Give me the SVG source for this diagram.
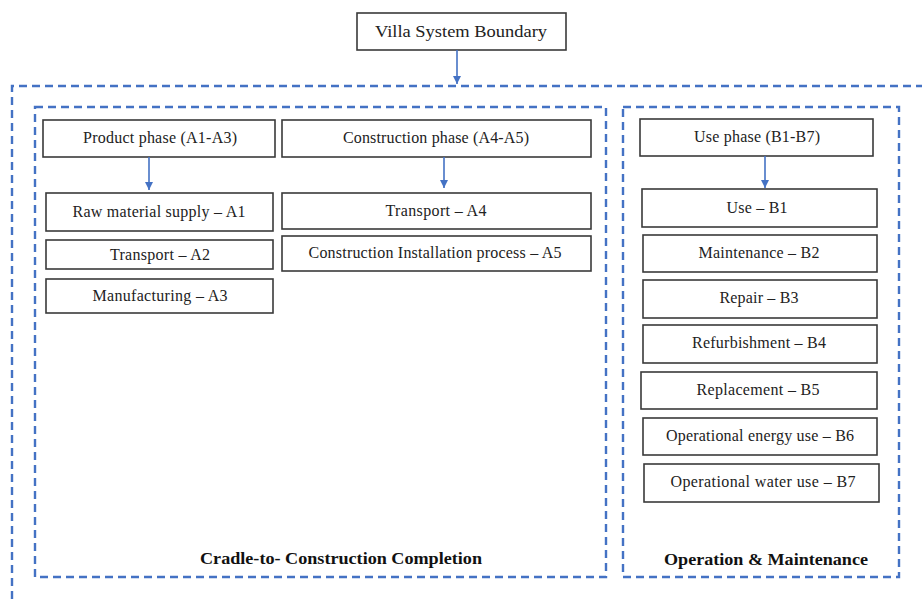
<svg xmlns="http://www.w3.org/2000/svg" width="922" height="599" viewBox="0 0 922 599">
  <defs>
    <marker id="arrow" markerWidth="10" markerHeight="10" refX="9" refY="5" orient="auto" markerUnits="userSpaceOnUse">
      <path d="M1,1 L9,5 L1,9 Z" fill="#4472C4"/>
    </marker>
    <style>
      .box { fill: #ffffff; stroke: #3a3a3a; stroke-width: 1.6; }
      .bound { fill: none; stroke: #4472C4; stroke-width: 2.4; stroke-dasharray: 8 5; }
      .lbl { font-family: "Liberation Serif", "Times New Roman", serif; font-size: 16px; fill: #222222; text-anchor: middle; }
      .title { font-family: "Liberation Serif", "Times New Roman", serif; font-size: 17.5px; fill: #222222; text-anchor: middle; }
      .zone { font-family: "Liberation Serif", "Times New Roman", serif; font-size: 17px; font-weight: bold; fill: #111111; text-anchor: middle; }
      .conn { stroke: #4472C4; stroke-width: 1.6; fill: none; }
    </style>
  </defs>
  <rect width="922" height="599" fill="#ffffff"/>

  <!-- system boundaries -->
  <g id="boundaries">
    <path class="bound" d="M12,599 V86 H922"/>
    <rect class="bound" x="35" y="107" width="571" height="470"/>
    <rect class="bound" x="623" y="107" width="276" height="470"/>
    <text class="zone" x="341" y="564" textLength="282" lengthAdjust="spacingAndGlyphs">Cradle-to- Construction Completion</text>
    <text class="zone" x="766" y="565" textLength="204" lengthAdjust="spacingAndGlyphs">Operation &amp; Maintenance</text>
  </g>

  <g id="villa">
    <rect class="box" x="357" y="13" width="209" height="37"/>
    <text class="title" x="461" y="37" textLength="172" lengthAdjust="spacingAndGlyphs">Villa System Boundary</text>
  </g>

  <!-- product stage A1-A3 -->
  <g id="product-phase">
    <rect class="box" x="43" y="120" width="232" height="37"/>
    <text class="lbl" x="160" y="143" textLength="154" lengthAdjust="spacing">Product phase (A1-A3)</text>
  </g>
  <g id="a1">
    <rect class="box" x="46" y="193" width="227" height="38"/>
    <text class="lbl" x="159" y="217" textLength="173" lengthAdjust="spacing">Raw material  supply – A1</text>
  </g>
  <g id="a2">
    <rect class="box" x="46" y="240" width="227" height="29"/>
    <text class="lbl" x="160" y="260" textLength="100" lengthAdjust="spacing">Transport – A2</text>
  </g>
  <g id="a3">
    <rect class="box" x="46" y="279" width="227" height="34"/>
    <text class="lbl" x="160" y="301" textLength="135" lengthAdjust="spacing">Manufacturing  – A3</text>
  </g>

  <!-- construction stage A4-A5 -->
  <g id="construction-phase">
    <rect class="box" x="282" y="120" width="309" height="37"/>
    <text class="lbl" x="436" y="143" textLength="186" lengthAdjust="spacing">Construction  phase (A4-A5)</text>
  </g>
  <g id="a4">
    <rect class="box" x="282" y="193" width="309" height="36"/>
    <text class="lbl" x="436" y="216" textLength="101" lengthAdjust="spacing">Transport – A4</text>
  </g>
  <g id="a5">
    <rect class="box" x="282" y="236" width="309" height="35"/>
    <text class="lbl" x="435" y="258" textLength="253" lengthAdjust="spacing">Construction  Installation  process – A5</text>
  </g>

  <!-- use stage B1-B7 -->
  <g id="use-phase">
    <rect class="box" x="640" y="119" width="233" height="37"/>
    <text class="lbl" x="757" y="142" textLength="126" lengthAdjust="spacing">Use phase  (B1-B7)</text>
  </g>
  <g id="b1">
    <rect class="box" x="642" y="189" width="235" height="38"/>
    <text class="lbl" x="757" y="213" textLength="61" lengthAdjust="spacing">Use – B1</text>
  </g>
  <g id="b2">
    <rect class="box" x="643" y="235" width="234" height="37"/>
    <text class="lbl" x="759" y="258" textLength="121" lengthAdjust="spacing">Maintenance  – B2</text>
  </g>
  <g id="b3">
    <rect class="box" x="643" y="280" width="234" height="38"/>
    <text class="lbl" x="759" y="303" textLength="79" lengthAdjust="spacing">Repair  – B3</text>
  </g>
  <g id="b4">
    <rect class="box" x="643" y="325" width="234" height="38"/>
    <text class="lbl" x="759" y="348" textLength="134" lengthAdjust="spacing">Refurbishment  – B4</text>
  </g>
  <g id="b5">
    <rect class="box" x="641" y="372" width="236" height="37"/>
    <text class="lbl" x="758" y="395" textLength="123" lengthAdjust="spacing">Replacement  – B5</text>
  </g>
  <g id="b6">
    <rect class="box" x="643" y="418" width="234" height="37"/>
    <text class="lbl" x="760" y="441" textLength="188" lengthAdjust="spacing">Operational  energy  use – B6</text>
  </g>
  <g id="b7">
    <rect class="box" x="644" y="464" width="235" height="38"/>
    <text class="lbl" x="763" y="487" textLength="185" lengthAdjust="spacing">Operational  water  use – B7</text>
  </g>

  <!-- connectors -->
  <g id="connectors">
    <line class="conn" x1="457" y1="50" x2="457" y2="84" marker-end="url(#arrow)"/>
    <line class="conn" x1="149" y1="157" x2="149" y2="190" marker-end="url(#arrow)"/>
    <line class="conn" x1="444" y1="157" x2="444" y2="188" marker-end="url(#arrow)"/>
    <line class="conn" x1="765" y1="156" x2="765" y2="188" marker-end="url(#arrow)"/>
  </g>
</svg>
